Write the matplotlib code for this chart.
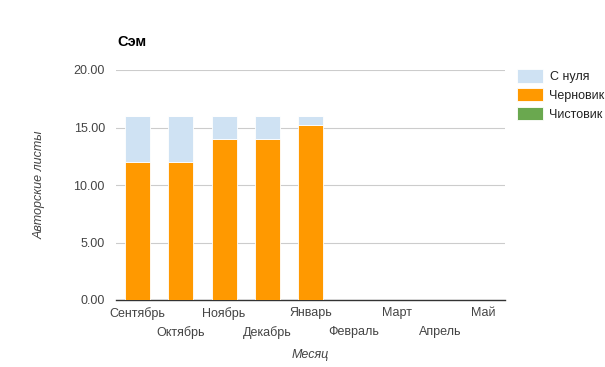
import matplotlib
matplotlib.use("Agg")
import matplotlib.pyplot as plt
import numpy as np

months = ["Сентябрь", "Октябрь", "Ноябрь", "Декабрь", "Январь", "Февраль", "Март", "Апрель", "Май"]
s_nulya = [4, 4, 2, 2, 0.8, 0, 0, 0, 0]
chernovik = [12, 12, 14, 14, 15.2, 0, 0, 0, 0]
chistovik = [0, 0, 0, 0, 0, 0, 0, 0, 0]
series_names = ["С нуля", "Черновик", "Чистовик"]
colors = ["#cfe2f3", "#ff9900", "#6aa84f"]
yticks = [0, 5, 10, 15, 20]

plt.rcParams['font.family'] = ['Liberation Sans', 'DejaVu Sans']

fig = plt.figure(figsize=(6.05, 3.67), dpi=100)
ax = fig.add_axes([116/605, 1-300/367, 389/605, 230/367])

x = np.arange(len(months))
w = 0.58
b1 = ax.bar(x, chernovik, w, color=colors[1], edgecolor="white", linewidth=0.6, label=series_names[1], zorder=3)
b0 = ax.bar(x, s_nulya, w, bottom=chernovik, color=colors[0], edgecolor="white", linewidth=0.6, label=series_names[0], zorder=3)
bot2 = [a + b for a, b in zip(chernovik, s_nulya)]
b2 = ax.bar(x, chistovik, w, bottom=bot2, color=colors[2], edgecolor="white", linewidth=0.6, label=series_names[2], zorder=3)

ax.set_xlim(-0.5, len(months) - 0.5)
ax.set_ylim(0, 20)
ax.set_yticks(yticks)
ax.set_yticklabels([f"{v:.2f}" for v in yticks], color="#444444", fontsize=9)
ax.yaxis.grid(True, color="#cccccc", linewidth=0.8, zorder=0)
ax.set_axisbelow(True)
for s in ["top", "right", "left"]:
    ax.spines[s].set_visible(False)
ax.spines["bottom"].set_color("#333333")
ax.spines["bottom"].set_linewidth(1)
ax.tick_params(axis="both", which="both", length=0)
ax.tick_params(axis="y", pad=8)

even = x[::2]
odd = x[1::2]
ax.set_xticks(even)
ax.set_xticklabels([months[i] for i in even], color="#444444", fontsize=9)
ax.set_xticks(odd, minor=True)
ax.set_xticklabels([months[i] for i in odd], minor=True, color="#444444", fontsize=9)
ax.tick_params(axis="x", which="major", pad=5)
ax.tick_params(axis="x", which="minor", pad=19)

ax.set_xlabel("Месяц", fontstyle="italic", color="#444444", fontsize=9, labelpad=7)
ax.set_ylabel("Авторские листы", fontstyle="italic", color="#444444", fontsize=9, labelpad=20)

fig.text(117/605, 1-42/367, "Сэм", fontsize=10.5, fontweight="bold", color="#000000", va="center", ha="left")

handles = [b0, b1, b2]
leg = fig.legend(handles, series_names, loc="upper left", bbox_to_anchor=(517/605, 1-69/367),
                 frameon=False, fontsize=9, handlelength=2.1, handleheight=1.3,
                 labelspacing=0.38, handletextpad=0.5, borderaxespad=0, borderpad=0)
for t in leg.get_texts():
    t.set_color("#222222")

fig.savefig("out.png", dpi=100)
